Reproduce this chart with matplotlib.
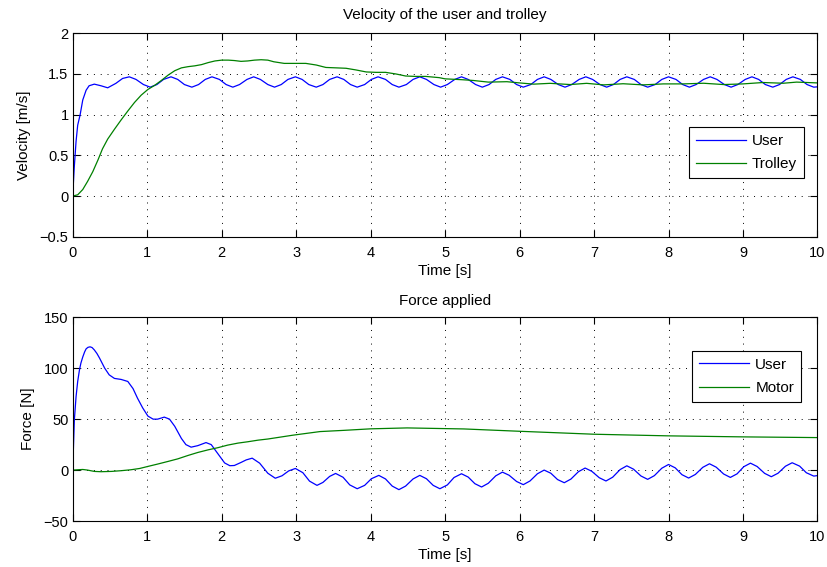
import matplotlib.pyplot as plt

plt.rcParams['font.family'] = ['Liberation Sans', 'DejaVu Sans']
plt.rcParams['font.size'] = 10.5

# velocity plot data
t_user_vel = [0, 0.02, 0.045, 0.067, 0.10, 0.135, 0.18, 0.22, 0.29, 0.38, 0.47, 0.58, 0.67,
              0.76, 0.85, 0.95, 1.04, 1.13, 1.22,
              1.32, 1.41, 1.50, 1.60, 1.69, 1.78,
              1.87, 1.97, 2.06, 2.15, 2.24, 2.34,
              2.43, 2.52, 2.62, 2.71, 2.80, 2.89,
              2.99, 3.08, 3.17, 3.27, 3.36, 3.45,
              3.55, 3.64, 3.73, 3.82, 3.92, 4.01,
              4.10, 4.20, 4.29, 4.38, 4.48, 4.57,
              4.66, 4.75, 4.85, 4.94, 5.03, 5.13,
              5.22, 5.31, 5.41, 5.50, 5.59, 5.68,
              5.77, 5.87, 5.96, 6.05, 6.15, 6.24,
              6.33, 6.42, 6.52, 6.61, 6.70, 6.80,
              6.89, 6.98, 7.08, 7.17, 7.26, 7.35,
              7.44, 7.54, 7.63, 7.72, 7.82, 7.91,
              8.00, 8.10, 8.19, 8.28, 8.37, 8.47,
              8.56, 8.65, 8.75, 8.84, 8.93, 9.03,
              9.12, 9.21, 9.30, 9.40, 9.49, 9.58,
              9.67, 9.77, 9.86, 9.95, 10.0]
v_user = [0, 0.34, 0.67, 0.87, 1.0, 1.18, 1.30, 1.355, 1.375, 1.355, 1.33, 1.385, 1.445,
          1.465, 1.433, 1.37, 1.338, 1.37, 1.433,
          1.465, 1.433, 1.37, 1.338, 1.37, 1.433,
          1.465, 1.433, 1.37, 1.338, 1.37, 1.433,
          1.465, 1.433, 1.37, 1.338, 1.37, 1.433,
          1.465, 1.433, 1.37, 1.338, 1.37, 1.433,
          1.465, 1.433, 1.37, 1.338, 1.37, 1.433,
          1.465, 1.433, 1.37, 1.338, 1.37, 1.433,
          1.465, 1.433, 1.37, 1.338, 1.37, 1.433,
          1.465, 1.433, 1.37, 1.338, 1.37, 1.433,
          1.465, 1.433, 1.37, 1.338, 1.37, 1.433,
          1.465, 1.433, 1.37, 1.338, 1.37, 1.433,
          1.465, 1.433, 1.37, 1.338, 1.37, 1.433,
          1.465, 1.433, 1.37, 1.338, 1.37, 1.433,
          1.465, 1.433, 1.37, 1.338, 1.37, 1.433,
          1.465, 1.433, 1.37, 1.338, 1.37, 1.433,
          1.465, 1.433, 1.37, 1.338, 1.37, 1.433,
          1.465, 1.433, 1.37, 1.338, 1.342]

t_trolley = [0, 0.067, 0.135, 0.2, 0.27, 0.34, 0.40, 0.47, 0.56, 0.65, 0.74, 0.83, 0.92, 1.01,
             1.10, 1.19, 1.28, 1.37, 1.46, 1.55, 1.64, 1.73, 1.82, 1.91, 2.0, 2.09, 2.17, 2.26,
             2.35, 2.44, 2.53, 2.62, 2.7, 2.84, 3.0, 3.13, 3.27, 3.4, 3.54, 3.67, 3.8, 3.94,
             4.07, 4.2, 4.34, 4.47, 4.6, 4.74, 4.92, 5.0, 5.22, 5.38, 5.58, 5.83, 6.0, 6.19,
             6.41, 6.68, 6.9, 7.13, 7.39, 7.66, 7.93, 8.2, 8.47, 8.74, 9.0, 9.27, 9.54, 9.72, 10.0]
v_trolley = [0, 0.015, 0.08, 0.18, 0.30, 0.445, 0.58, 0.70, 0.82, 0.935, 1.045, 1.15, 1.24, 1.31,
             1.36, 1.42, 1.485, 1.54, 1.575, 1.59, 1.60, 1.615, 1.64, 1.66, 1.67, 1.67, 1.665, 1.655,
             1.66, 1.67, 1.675, 1.67, 1.65, 1.63, 1.63, 1.63, 1.61, 1.58, 1.575, 1.57, 1.55, 1.525,
             1.52, 1.52, 1.50, 1.475, 1.47, 1.47, 1.455, 1.44, 1.43, 1.42, 1.40, 1.405, 1.39, 1.375,
             1.385, 1.37, 1.385, 1.366, 1.38, 1.366, 1.378, 1.378, 1.386, 1.37, 1.378, 1.395, 1.386, 1.40, 1.39]

# force plot data
t_user_force = [0, 0.022, 0.045, 0.067, 0.09, 0.11, 0.135, 0.16, 0.18, 0.205, 0.233, 0.26, 0.29,
                0.325, 0.36, 0.43, 0.49, 0.56,
                0.65, 0.74, 0.81, 0.87, 0.94, 1.01, 1.08, 1.14, 1.23, 1.30, 1.37, 1.46, 1.52,
                1.59, 1.68, 1.79, 1.86, 1.95, 2.04, 2.11, 2.17, 2.26, 2.33, 2.41, 2.51, 2.62,
                2.72, 2.81, 2.90, 2.99, 3.09, 3.18, 3.28, 3.36, 3.45, 3.53, 3.63, 3.72,
                3.82, 3.92, 4.01, 4.11, 4.20, 4.29, 4.38, 4.47, 4.57, 4.66, 4.75, 4.84,
                4.93, 5.03, 5.12, 5.22, 5.31, 5.40, 5.49, 5.58, 5.68, 5.77, 5.86, 5.96,
                6.05, 6.14, 6.24, 6.33, 6.42, 6.51, 6.60, 6.69, 6.79, 6.88, 6.97, 7.07,
                7.16, 7.25, 7.35, 7.44, 7.53, 7.63, 7.72, 7.81, 7.91, 8.0, 8.09, 8.18,
                8.27, 8.36, 8.46, 8.55, 8.64, 8.74, 8.83, 8.92, 9.01, 9.10, 9.19, 9.29,
                9.38, 9.47, 9.57, 9.66, 9.76, 9.85, 9.95, 10.0]
f_user = [0, 49, 72, 87, 98, 105, 111, 116, 119, 120.5, 121, 120.3, 118,
          114.5, 110, 100, 93.5, 90,
          89, 87, 80, 70.6, 61, 53, 50, 50, 52, 50, 43, 31, 25,
          22.5, 24, 27, 25, 16, 7, 4.3, 4.5, 7.5, 10, 11.7, 6.8, -3.1,
          -8, -5.6, -0.8, 1.6, -2.55, -10.85, -15, -12.1, -6.2, -3.3, -7.05, -14.55,
          -18.3, -15.0, -8.5, -5.2, -8.7, -15.7, -19.2, -15.7, -8.7, -5.2, -8.5, -15.0,
          -18.3, -14.6, -7.3, -3.6, -6.85, -13.35, -16.6, -12.95, -5.65, -2, -5.1, -11.2,
          -14.3, -10.7, -3.6, 0, -3.1, -9.3, -12.4, -8.8, -1.6, 2, -1.2, -7.5,
          -10.7, -7.0, 0.5, 4.2, 0.9, -5.8, -9.1, -5.45, 1.85, 5.5, 2.2, -4.5,
          -7.8, -4.3, 2.7, 6.2, 2.85, -3.85, -7.2, -3.7, 3.3, 6.8, 3.5, -3.2,
          -6.5, -3.1, 3.8, 7.2, 3.9, -2.6, -5.9, -5.4]

t_motor = [0, 0.067, 0.135, 0.2, 0.29, 0.38, 0.52, 0.65, 0.78, 0.9, 1.01, 1.14, 1.28, 1.41,
           1.55, 1.68, 1.82, 1.95, 2.08, 2.22, 2.35, 2.49, 2.62, 2.96, 3.32, 3.64, 4.0, 4.49,
           4.94, 5.25, 6.0, 7.0, 8.0, 9.0, 10.0]
f_motor = [0, 0.3, 0.6, 0, -1.3, -1.6, -1.3, -0.6, 0.3, 1.6, 3.6, 5.9, 8.5, 11,
           14.4, 17.3, 19.9, 22, 24.5, 26.5, 27.8, 29.4, 30.5, 34.3, 37.8, 39, 40.5, 41.4,
           40.8, 40.4, 38.1, 35.2, 33.6, 32.6, 31.9]

blue = (0, 0, 1)
green = (0, 0.5, 0)

fig = plt.figure(figsize=(8.28, 5.67), dpi=100)
ax1 = fig.add_axes([0.0878, 0.5825, 0.8995, 0.3588])
ax2 = fig.add_axes([0.0878, 0.0811, 0.8995, 0.3593])


def matlab_style(ax):
    ax.grid(True, color='black', linestyle=(0, (1, 6)), linewidth=0.7)
    ax.tick_params(direction='in', length=5, width=0.8, top=True, right=True)
    ax.tick_params(axis='x', pad=6.5)
    ax.tick_params(axis='y', pad=3)
    for s in ax.spines.values():
        s.set_linewidth(0.8)
    ax.set_xlim(0, 10)
    ax.set_xticks(range(0, 11))
    ax.set_xlabel('Time [s]', fontsize=11, labelpad=3)


def add_legend(ax, anchor):
    leg = ax.legend(loc='upper right', bbox_to_anchor=anchor, borderaxespad=0, fontsize=11,
                    fancybox=False, edgecolor='black', framealpha=1, handlelength=3.3,
                    handletextpad=0.4, labelspacing=0.6, borderpad=0.45)
    leg.get_frame().set_linewidth(0.8)


ax1.plot(t_user_vel, v_user, color=blue, lw=0.9, label='User')
ax1.plot(t_trolley, v_trolley, color=green, lw=0.9, label='Trolley')
matlab_style(ax1)
ax1.set_ylim(-0.5, 2)
ax1.set_yticks([-0.5, 0, 0.5, 1, 1.5, 2])
ax1.set_yticklabels(['\u22120.5', '0', '0.5', '1', '1.5', '2'])
ax1.set_ylabel('Velocity [m/s]', fontsize=11, labelpad=6)
ax1.set_title('Velocity of the user and trolley', fontsize=11, pad=10)
add_legend(ax1, (0.982, 0.539))

ax2.plot(t_user_force, f_user, color=blue, lw=0.9, label='User')
ax2.plot(t_motor, f_motor, color=green, lw=0.9, label='Motor')
matlab_style(ax2)
ax2.set_ylim(-50, 150)
ax2.set_yticks([-50, 0, 50, 100, 150])
ax2.set_yticklabels(['\u221250', '0', '50', '100', '150'])
ax2.set_ylabel('Force [N]', fontsize=11, labelpad=6)
ax2.set_title('Force applied', fontsize=11, pad=9)
add_legend(ax2, (0.978, 0.835))

fig.savefig('out.png', dpi=100)
